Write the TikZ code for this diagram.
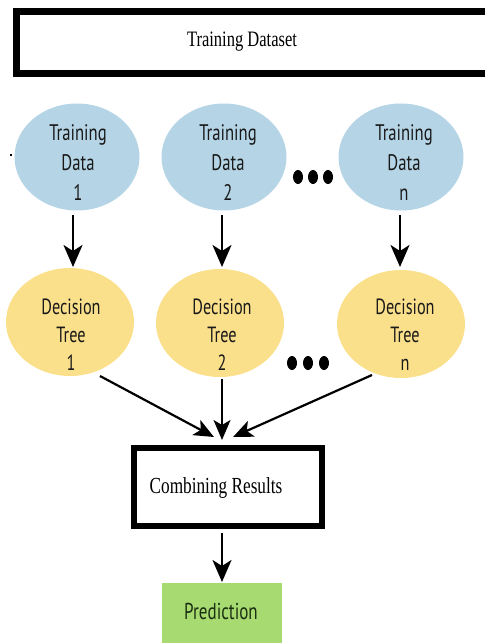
\documentclass[tikz,border=0pt]{standalone}
\usepackage{fontspec}
\usetikzlibrary{shapes.geometric,arrows.meta}
\newfontfamily\serifn{Liberation Serif}[FakeStretch=0.75]
\newfontfamily\sansn{PT Sans}[FakeStretch=0.74]
\definecolor{tdblue}{HTML}{B5D5E6}
\definecolor{dtyellow}{HTML}{FBE08C}
\definecolor{prgreen}{HTML}{A7DA70}
\definecolor{prtext}{HTML}{1A2E10}
\tikzset{
  bigbox/.style={draw=black, line width=6.5bp, fill=white},
  tdell/.style={ellipse, fill=tdblue, draw=none, minimum width=125bp, minimum height=107bp, inner sep=0pt},
  dtell/.style={ellipse, fill=dtyellow, draw=none, minimum width=128bp, minimum height=108bp, inner sep=0pt},
  tdtext/.style={font=\sansn\fontsize{22.5bp}{30bp}\selectfont, align=center, text=black!90, inner sep=0pt},
  dttext/.style={font=\sansn\fontsize{22bp}{28bp}\selectfont, align=center, text=black!90, inner sep=0pt},
  serif/.style={font=\serifn\fontsize{22bp}{26bp}\selectfont, inner sep=0pt},
  arr/.style={line width=2.4bp, -{Stealth[length=22bp, width=19bp, inset=6bp]}},
  carr/.style={line width=2.2bp, -{Stealth[length=20bp, width=17bp, inset=5bp]}},
  dotmark/.style={ellipse, fill=black, minimum width=10bp, minimum height=14bp, inner sep=0pt}
}
\begin{document}
\begin{tikzpicture}[x=1bp, y=-1bp]
\useasboundingbox (0,0) rectangle (485,643);
\clip (0,0) rectangle (485,643);
% top box
\draw[bigbox] (16.5,11.5) rectangle (495,73.5);
\node[serif] (ds) at (242,42) {Training Dataset};
% training data ellipses
\node[tdell] (td1) at (77,157) {};
\node[tdell] (td2) at (224,157) {};
\node[tdell] (td3) at (401,157) {};
\node[tdtext] (tdt1) at (78,163) {Training\\Data\\1};
\node[tdtext] (tdt2) at (228,163) {Training\\Data\\2};
\node[tdtext] (tdt3) at (404,163) {Training\\Data\\n};
\node[dotmark] (a1) at (298,177) {};
\node[dotmark] (a2) at (313,177) {};
\node[dotmark] (a3) at (328,177) {};
\node[fill=black, inner sep=0pt, minimum size=2bp] (spk) at (11,155) {};
% decision tree ellipses
\node[dtell] (dt1) at (70,322) {};
\node[dtell] (dt2) at (220,323) {};
\node[dtell] (dt3) at (401,324) {};
\node[dttext] (dtt1) at (71,335) {Decision\\Tree\\1};
\node[dttext] (dtt2) at (222,335) {Decision\\Tree\\2};
\node[dttext] (dtt3) at (405,335) {Decision\\Tree\\n};
\node[dotmark] (b1) at (292,363) {};
\node[dotmark] (b2) at (308,363) {};
\node[dotmark] (b3) at (324,363) {};
% arrows top -> trees
\coordinate (s1) at (73,215); \coordinate (e1) at (73,267);
\coordinate (s2) at (222,215); \coordinate (e2) at (222,267);
\coordinate (s3) at (400,215); \coordinate (e3) at (400,267);
\draw[arr] (s1) -- (e1);
\draw[arr] (s2) -- (e2);
\draw[arr] (s3) -- (e3);
% combining box
\node[draw=black, line width=6bp, fill=white, minimum width=188bp, minimum height=78bp, inner sep=0pt] (cr) at (228,487) {};
\node[serif, font=\serifn\fontsize{23bp}{26bp}\selectfont] (crt) at (216,488) {Combining Results};
% converging arrows
\coordinate (c1) at (100,376); \coordinate (ce1) at (214,437);
\coordinate (c2) at (222,379); \coordinate (ce2) at (222,440);
\coordinate (c3) at (372,375); \coordinate (ce3) at (233,437);
\draw[carr] (c1) -- (ce1);
\draw[carr] (c2) -- (ce2);
\draw[carr] (c3) -- (ce3);
% prediction
\fill[prgreen] (162,583) rectangle (282,650);
\node[font=\sansn\fontsize{23bp}{28bp}\selectfont, text=prtext, inner sep=0pt] (pr) at (221,611) {Prediction};
\coordinate (p1) at (222,533); \coordinate (p2) at (222,582);
\draw[arr] (p1) -- (p2);
\end{tikzpicture}
\end{document}
